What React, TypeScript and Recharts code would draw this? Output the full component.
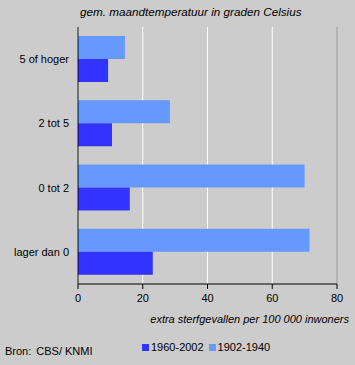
import React from "react"
import { BarChart, Bar, XAxis, YAxis, CartesianGrid, ReferenceLine } from "recharts"

const categories = ["5 of hoger", "2 tot 5", "0 tot 2", "lager dan 0"]
const recent = [9.3, 10.5, 16, 23.1] // 1960-2002
const early = [14.5, 28.4, 70, 71.5] // 1902-1940
const xTicks = [0, 20, 40, 60, 80]

const DARK = "#3333ff"
const LIGHT = "#6699ff"
const BG = "#cccccc"
const font = "'Liberation Sans', Arial, sans-serif"

const data = categories.map((name, i) => ({ name, recent: recent[i], early: early[i] }))

const legendItems = [
  { label: "1960-2002", color: DARK },
  { label: "1902-1940", color: LIGHT },
]

export default function App() {
  return (
    <div style={{ position: "absolute", left: 0, top: 0, width: 355, height: 365, background: BG, fontFamily: font }}>
      <div style={{ position: "absolute", left: 80, top: 5, fontSize: 11.7, fontStyle: "italic", color: "#000" }}>
        gem. maandtemperatuur in graden Celsius
      </div>
      <BarChart
        width={355}
        height={365}
        data={data}
        layout="vertical"
        margin={{ top: 27, right: 18, bottom: 51, left: 0 }}
        barGap={0}
        barSize={23}
      >
        <CartesianGrid horizontal={false} stroke="#ffffff" strokeWidth={1} />
        <XAxis
          type="number"
          domain={[0, 80]}
          ticks={xTicks}
          height={30}
          axisLine={{ stroke: "#000" }}
          tickLine={{ stroke: "#000" }}
          tickSize={5}
          tickMargin={5}
          tick={{ fontSize: 11, fill: "#000", fontFamily: font }}
        />
        <XAxis xAxisId="top" orientation="top" type="number" domain={[0, 80]} height={0} tick={false} tickLine={false} axisLine={{ stroke: "#808080" }} />
        <YAxis
          type="category"
          dataKey="name"
          width={78}
          axisLine={{ stroke: "#000" }}
          tickLine={false}
          tickSize={0}
          tickMargin={9}
          tick={{ fontSize: 11, fill: "#000", fontFamily: font }}
        />
        <ReferenceLine x={80} stroke="#808080" />
        <Bar dataKey="early" fill={LIGHT} isAnimationActive={false} />
        <Bar dataKey="recent" fill={DARK} isAnimationActive={false} />
      </BarChart>
      <div style={{ position: "absolute", right: 6, top: 313, fontSize: 11, fontStyle: "italic", color: "#000" }}>
        extra sterfgevallen per 100 000 inwoners
      </div>
      <div style={{ position: "absolute", left: 5, top: 345, fontSize: 11, color: "#000", whiteSpace: "pre" }}>
        Bron:<span style={{ marginLeft: 5 }}>CBS/ KNMI</span>
      </div>
      <div style={{ position: "absolute", left: 142, top: 341, fontSize: 11, color: "#000", display: "flex", gap: 5 }}>
        {legendItems.map((it) => (
          <span key={it.label} style={{ display: "flex", alignItems: "center" }}>
            <span style={{ display: "inline-block", width: 7, height: 7, background: it.color, marginRight: 2 }} />
            {it.label}
          </span>
        ))}
      </div>
    </div>
  )
}
